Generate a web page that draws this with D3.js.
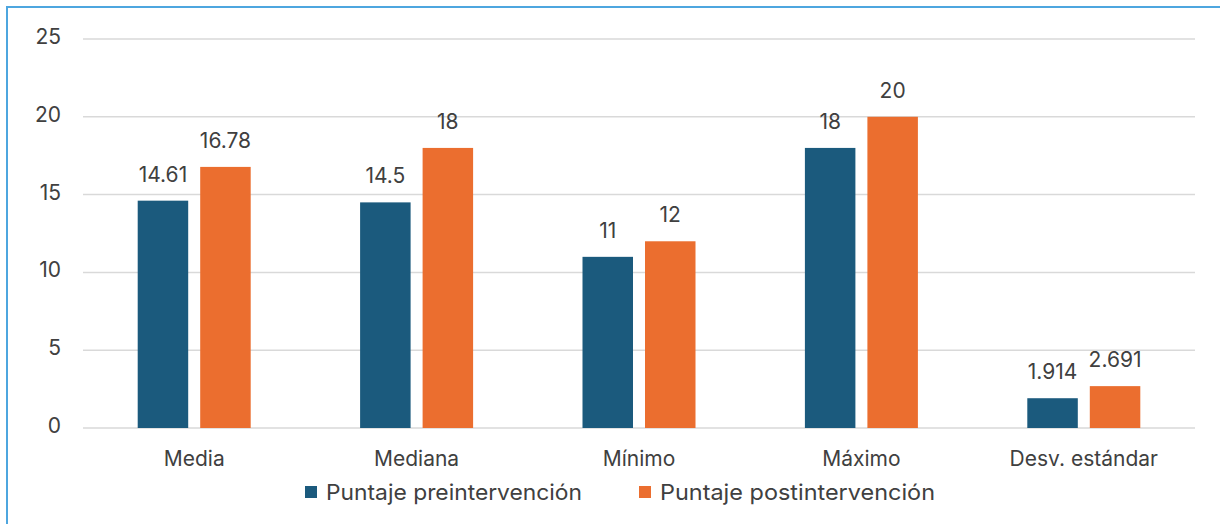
<!DOCTYPE html>
<html>
<head>
<meta charset="utf-8">
<script src="https://cdn.jsdelivr.net/npm/d3@7"></script>
<style>
  html, body { margin: 0; padding: 0; background: #ffffff; }
  svg { display: block; }
  text { font-family: "Inter", "Open Sans", sans-serif; fill: #404040; }
</style>
</head>
<body>
<svg id="chart" width="1220" height="524"></svg>
<script>
// Statistics of the pre/post intervention scores
const categories = ["Media", "Mediana", "Mínimo", "Máximo", "Desv. estándar"];
const preValues = [14.61, 14.5, 11, 18, 1.914];
const postValues = [16.78, 18, 12, 20, 2.691];
const seriesNames = ["Puntaje preintervención", "Puntaje postintervención"];
const yTicks = [0, 5, 10, 15, 20, 25];

const colors = ["#1b5a7d", "#eb6e2f"];

const svg = d3.select("#chart");
const W = 1220, H = 524;

// frame: top and left rules only
svg.append("line").attr("x1", 6).attr("x2", W).attr("y1", 7).attr("y2", 7)
  .attr("stroke", "#4ea6df").attr("stroke-width", 2);
svg.append("line").attr("x1", 7).attr("x2", 7).attr("y1", 6).attr("y2", H)
  .attr("stroke", "#4ea6df").attr("stroke-width", 2);

const plot = { left: 83, right: 1195, top: 39, bottom: 428 };

const x = d3.scaleBand().domain(categories).range([plot.left, plot.right]).paddingInner(0).paddingOuter(0);
const y = d3.scaleLinear().domain([0, 25]).range([plot.bottom, plot.top]);

// gridlines
svg.append("g").selectAll("line").data(yTicks).join("line")
  .attr("x1", plot.left).attr("x2", plot.right)
  .attr("y1", d => y(d)).attr("y2", d => y(d))
  .attr("stroke", "#d9d9d9").attr("stroke-width", 1.5);

// y tick labels
svg.append("g").selectAll("text").data(yTicks).join("text")
  .attr("x", 61).attr("y", d => y(d) + 5)
  .attr("text-anchor", "end")
  .attr("font-size", 21)
  .text(d => d);

const barW = 50.5, gap = 12;
const series = [preValues, postValues];

series.forEach((vals, si) => {
  const offset = si === 0 ? -(gap / 2 + barW) : gap / 2;
  const g = svg.append("g");
  g.selectAll("rect").data(categories).join("rect")
    .attr("x", (c) => x(c) + x.bandwidth() / 2 + offset)
    .attr("y", (c, i) => y(vals[i]))
    .attr("width", barW)
    .attr("height", (c, i) => y(0) - y(vals[i]))
    .attr("fill", colors[si]);
  g.selectAll("text").data(categories).join("text")
    .attr("x", (c) => x(c) + x.bandwidth() / 2 + offset + barW / 2)
    .attr("y", (c, i) => y(vals[i]) - 19)
    .attr("text-anchor", "middle")
    .attr("font-size", 21)
    .text((c, i) => vals[i]);
});

// category labels
svg.append("g").selectAll("text").data(categories).join("text")
  .attr("x", c => x(c) + x.bandwidth() / 2)
  .attr("y", 466)
  .attr("text-anchor", "middle")
  .attr("font-size", 21)
  .text(c => c);

// legend
const legendX = [305, 639];
const legendLen = [256, 275];
seriesNames.forEach((name, i) => {
  svg.append("rect").attr("x", legendX[i]).attr("y", 486).attr("width", 12).attr("height", 12)
    .attr("fill", colors[i]);
  svg.append("text").attr("x", legendX[i] + 21).attr("y", 500)
    .attr("font-family", "'Liberation Sans', Arial, sans-serif")
    .attr("font-size", 22)
    .attr("textLength", legendLen[i])
    .attr("lengthAdjust", "spacingAndGlyphs")
    .text(name);
});
</script>
</body>
</html>
